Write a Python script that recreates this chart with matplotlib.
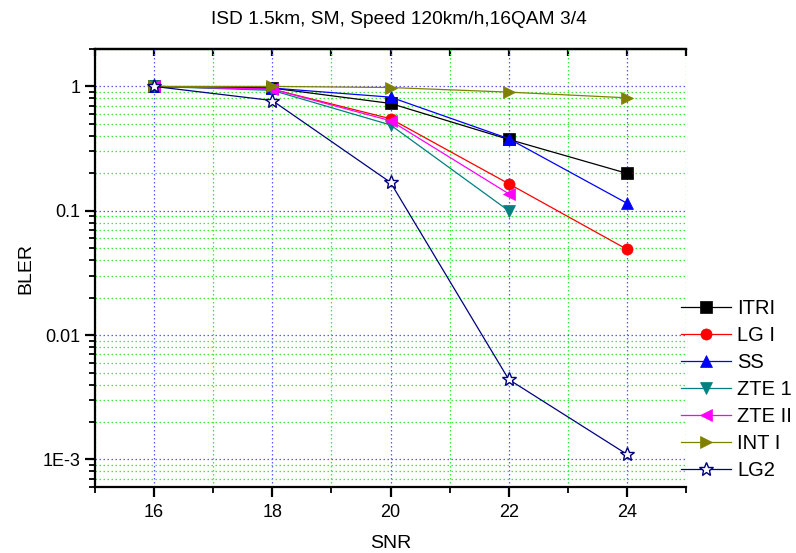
import numpy as np
import matplotlib
matplotlib.use('Agg')
from matplotlib import pyplot as plt
from matplotlib.ticker import FixedLocator, FixedFormatter, LogLocator, NullFormatter, MultipleLocator

plt.rcParams['font.family'] = ['Liberation Sans', 'DejaVu Sans']

# values
snr = [16, 18, 20, 22, 24]
itri = [1.0, 0.97, 0.73, 0.375, 0.2]
lg1 = [1.0, 0.95, 0.55, 0.165, 0.049]
ss = [1.0, 0.97, 0.82, 0.38, 0.115]
zte1 = [1.0, 0.93, 0.49, 0.1]
zte2 = [1.0, 0.95, 0.53, 0.137]
int1 = [1.0, 1.0, 0.98, 0.9, 0.81]
lg2 = [1.0, 0.77, 0.169, 0.0044, 0.0011]

series = [
	('ITRI', snr, itri, 'black', 's', 'black'),
	('LG I', snr, lg1, 'red', 'o', 'red'),
	('SS', snr, ss, 'blue', '^', 'blue'),
	('ZTE 1', snr[:4], zte1, '#008080', 'v', '#008080'),
	('ZTE II', snr[:4], zte2, 'magenta', '<', 'magenta'),
	('INT I', snr, int1, '#808000', '>', '#808000'),
	('LG2', snr, lg2, '#000080', '*', 'white'),
]

fig = plt.figure(figsize=(7.96, 5.53), dpi=100)
ax = fig.add_axes([95/796, 1-487/553, (686-95)/796, (487-49)/553])

for name, x, y, c, m, fc in series:
	ms = 10 if m == '*' else 8
	ax.plot(x, y, color=c, lw=0.9, marker=m, ms=ms, mfc=fc, mec=c, mew=1.0 if m == '*' else 0.5, label=name)

ax.set_yscale('log')
ax.set_xlim(15, 25)
ax.set_ylim(6e-4, 2)

ax.xaxis.set_major_locator(FixedLocator(snr))
ax.xaxis.set_minor_locator(MultipleLocator(1))
ax.yaxis.set_major_locator(FixedLocator([1e-3, 1e-2, 1e-1, 1]))
ax.yaxis.set_major_formatter(FixedFormatter(['1E-3', '0.01', '0.1', '1']))
ax.yaxis.set_minor_locator(LogLocator(base=10, subs=np.arange(2, 10), numticks=20))
ax.yaxis.set_minor_formatter(NullFormatter())

ax.grid(which='major', color='#5a5aff', ls=(0, (1.2, 2)), lw=0.9)
ax.grid(which='minor', color='#33ee33', ls=(0, (1.2, 2)), lw=0.9)

ax.spines['right'].set_visible(False)
for s in ['left', 'bottom', 'top']:
	ax.spines[s].set_linewidth(1.6)

ax.tick_params(which='major', direction='out', length=7, width=1.6, labelsize=13)
ax.tick_params(which='minor', direction='out', length=4, width=1.3)
ax.tick_params(axis='x', pad=5)

top = ax.secondary_xaxis('top')
top.xaxis.set_major_locator(FixedLocator(snr))
top.xaxis.set_minor_locator(MultipleLocator(1))
top.tick_params(which='both', direction='in', length=5, width=1.6, labeltop=False)
top.spines['top'].set_linewidth(1.6)

ax.set_xlabel('SNR', fontsize=14, labelpad=10)
ax.set_ylabel('BLER', fontsize=14, labelpad=6)
ax.set_title('ISD 1.5km, SM, Speed 120km/h,16QAM 3/4', fontsize=13.8, pad=18, x=0.514)

leg = ax.legend(loc='upper left', bbox_to_anchor=(681/796, 1-299/553), bbox_transform=fig.transFigure,
	frameon=False, fontsize=14.5, handlelength=2.5, handletextpad=0.3, labelspacing=0.4,
	borderpad=0, borderaxespad=0)

fig.savefig('out.png', dpi=100)
